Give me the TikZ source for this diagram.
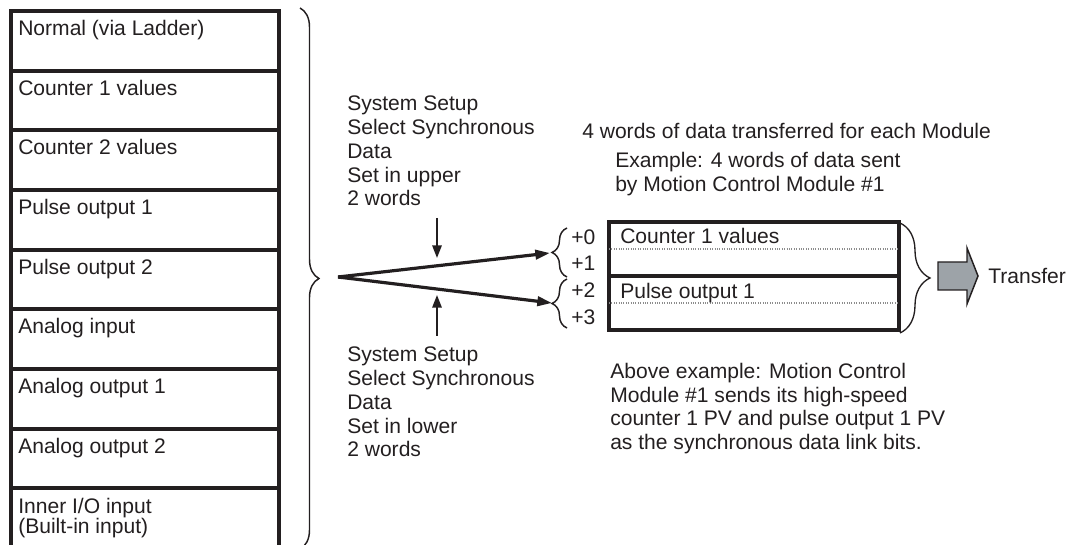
\documentclass[tikz,border=0pt]{standalone}
\usepackage{fontspec}
\setmainfont{Liberation Sans}
\usetikzlibrary{arrows.meta, decorations.pathreplacing, calc, positioning}
\definecolor{Ink}  {HTML}{231F20}
\definecolor{DotG} {HTML}{8C8C8C}
\definecolor{XferF}{HTML}{9DA3A8}
\tikzset{
  rowbox/.style={
    rectangle, draw=Ink, line width=3pt,
    minimum width=201pt, minimum height=44.75pt,
    anchor=north west, inner sep=0pt, outer sep=0pt,
  },
  wbox/.style={
    rectangle, draw=Ink, line width=3pt,
    minimum width=217.5pt, minimum height=40.5pt,
    anchor=north west, inner sep=0pt, outer sep=0pt,
  },
  txt/.style={
    font=\fontsize{15.8pt}{17.8pt}\selectfont, text=Ink,
    align=left, inner sep=0pt, anchor=north west,
  },
  darr/.style={
    -{Triangle[length=11pt,width=7pt]},
    line width=2.4pt, color=Ink,
  },
  varr/.style={
    -{Triangle[length=9.5pt,width=7pt]},
    line width=1.5pt, color=Ink,
  },
  brc/.style args={#1}{
    decorate, decoration={brace, amplitude=#1},
    line width=1.1pt, color=Ink,
  },
  dotln/.style={
    densely dotted, line width=0.8pt, color=DotG,
  },
  % gray block arrow
  xfer/.style={
    draw=Ink, fill=XferF, line width=1.1pt, line join=miter,
  },
}
\begin{document}
\begin{tikzpicture}[x=0.75pt,y=-0.75pt]
  \useasboundingbox (0,0) rectangle (1068,545);

  % left column
  \foreach \i in {0,...,7}{
    \node[rowbox] (r\i) at (11,{11+59.65*\i}) {};
  }
  \node[rowbox, minimum height=52pt] (r8) at (11,488.2) {};
  \foreach \lbl [count=\i from 0] in {Normal (via Ladder), Counter 1 values,
      Counter 2 values, Pulse output 1, Pulse output 2, Analog input,
      Analog output 1, Analog output 2}{
    \node[txt] (t\i) at ($(r\i.north west)+(7,9)$) {\lbl};
  }
  \node[txt, font=\fontsize{15.8pt}{15pt}\selectfont] (t8)
        at ($(r8.north west)+(7,10)$) {Inner I/O input\\(Built-in input)};

  \draw[brc=14.25pt] (300,8) -- (300,549);

  % notes
  \node[txt] (upnote)  at (347,96)  {System Setup\\Select Synchronous\\Data\\Set in upper\\2 words};
  \node[txt] (lownote) at (347,347) {System Setup\\Select Synchronous\\Data\\Set in lower\\2 words};
  \node[txt] (perunit) at (582,123) {4 words of data transferred for each Module};
  \node[txt] (exnote)  at (615,152) {Example: 4 words of data sent\\by Motion Control Module \#1};
  \node[txt] (abovenote) at (610,363) {Above example: Motion Control\\Module \#1 sends its high-speed\\counter 1 PV and pulse output 1 PV\\as the synchronous data link bits.};

  % fork arrows
  \coordinate (fork)  at (338,277);
  \coordinate (tip01) at (550,253);
  \coordinate (tip23) at (552,303);
  \draw[darr] (fork) -- (tip01);
  \draw[darr] (fork) -- (tip23);

  \coordinate (upfrom)  at (437,218);
  \coordinate (upto)    at (437,258);
  \coordinate (lowfrom) at (437,336);
  \coordinate (lowto)   at (437,295);
  \draw[varr] (upfrom) -- (upto);
  \draw[varr] (lowfrom) -- (lowto);

  % word offsets
  \foreach \lbl/\y [count=\i from 0] in {+0/237, +1/263, +2/290, +3/317}{
    \node[txt, anchor=west] (o\i) at (571,\y) {\lbl};
  }
  \draw[brc=11.25pt] (567,277) -- (567,228);
  \draw[brc=11.25pt] (567,328) -- (567,279);

  % data words
  \node[wbox] (w0) at (609,222) {};
  \node[wbox] (w2) at (609,276) {};
  \draw[dotln] (w0.west) -- (w0.east);
  \draw[dotln] (w2.west) -- (w2.east);
  \node[txt] (w0t) at ($(w0.north west)+(11,6)$) {Counter 1 values};
  \node[txt] (w2t) at ($(w2.north west)+(11,7)$) {Pulse output 1};

  \draw[brc=22.5pt, line width=1pt] (900,223) -- (900,333);

  \draw[xfer] (938,262) -- (967,262) -- (967,248) -- (978,276)
              -- (967,304) -- (967,290) -- (938,290) -- cycle;
  \node[txt, anchor=west] (xfert) at (988,276) {Transfer};

\end{tikzpicture}
\end{document}
